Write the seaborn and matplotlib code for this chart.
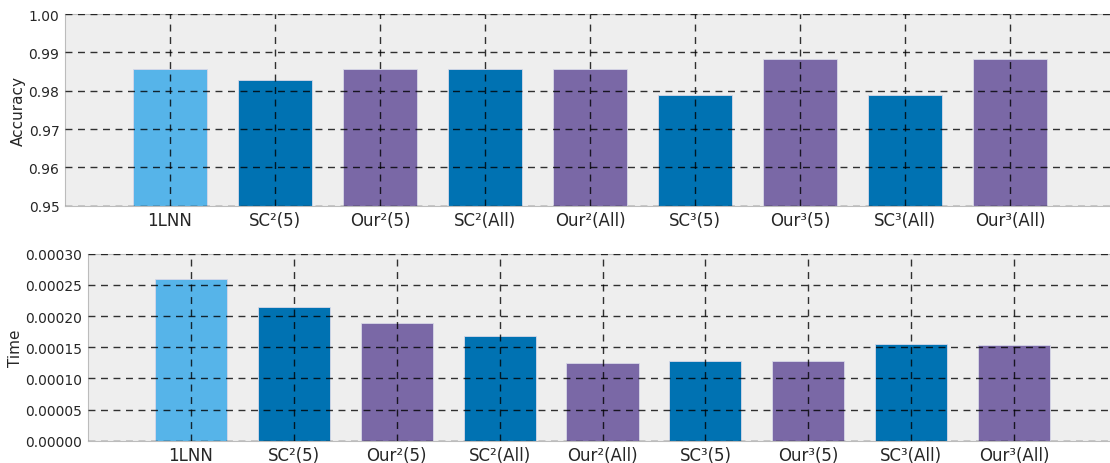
import pandas as pd
import seaborn as sns
import matplotlib.pyplot as plt

# -- data
methods = ["1LNN", "SC²(5)", "Our²(5)", "SC²(All)", "Our²(All)",
           "SC³(5)", "Our³(5)", "SC³(All)", "Our³(All)"]
accuracy = [0.9857, 0.9828, 0.9857, 0.9857, 0.9857, 0.9788, 0.9882, 0.9788, 0.9882]
runtime = [0.000259, 0.000215, 0.000189, 0.000168, 0.0001245,
           0.000128, 0.0001278, 0.000155, 0.0001535]
bar_colors = ["#56B4E9", "#0072B2", "#7A68A6", "#0072B2", "#7A68A6",
              "#0072B2", "#7A68A6", "#0072B2", "#7A68A6"]

df = pd.DataFrame({"method": methods, "Accuracy": accuracy, "Time": runtime})

sns.set_style("white")
plt.rcParams["font.family"] = ["DejaVu Sans"]

fig = plt.figure(figsize=(11.10, 4.64), dpi=100)
ax_top = fig.add_axes([0.0586, 0.5545, 0.946, 0.413])
ax_bot = fig.add_axes([0.0793, 0.048, 0.927, 0.403])


def draw(ax, col, ylim, yticks, fmt):
    sns.barplot(data=df, x="method", y=col, hue="method", palette=bar_colors,
                saturation=1, width=0.7, edgecolor="#d8d8e8", linewidth=0.6,
                legend=False, ax=ax)
    ax.set_facecolor("#eeeeee")
    ax.set_xlim(-1, 9)
    ax.set_ylim(*ylim)
    ax.set_yticks(yticks)
    ax.set_yticklabels([fmt.format(v) for v in yticks], fontsize=10)
    ax.set_xticks(range(len(methods)))
    ax.set_xticklabels(methods, fontsize=12)
    ax.set_xlabel("")
    ax.set_ylabel(col, fontsize=11, labelpad=2)
    ax.tick_params(length=0, pad=4)
    ax.set_axisbelow(False)
    ax.grid(True, color="black", alpha=0.8, linestyle=(0, (5, 4)), linewidth=1)
    for s in ax.spines.values():
        s.set_color("#bcbcbc")


draw(ax_top, "Accuracy", (0.95, 1.0), [0.95, 0.96, 0.97, 0.98, 0.99, 1.00], "{:.2f}")
draw(ax_bot, "Time", (0, 0.0003), [0, 0.00005, 0.0001, 0.00015, 0.0002, 0.00025, 0.0003], "{:.5f}")

fig.savefig("out.png", dpi=100)
